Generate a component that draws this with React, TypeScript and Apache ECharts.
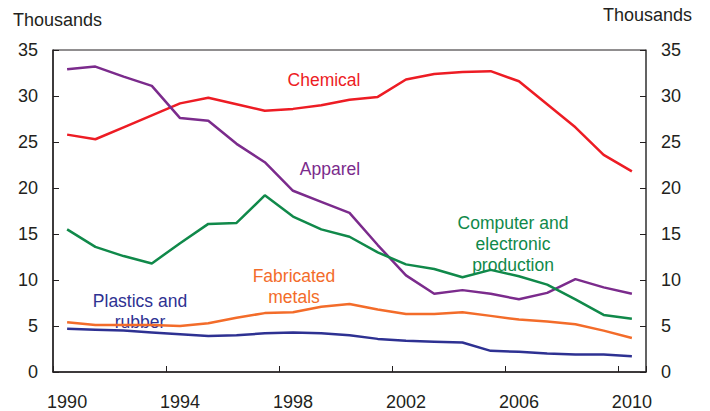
import React, { useEffect, useRef } from "react";
import * as echarts from "echarts";

const years = ["1990","1991","1992","1993","1994","1995","1996","1997","1998","1999","2000","2001","2002","2003","2004","2005","2006","2007","2008","2009","2010"];
const chemical = [25.8, 25.3, 26.6, 27.9, 29.2, 29.8, 29.1, 28.4, 28.6, 29.0, 29.6, 29.9, 31.8, 32.4, 32.6, 32.7, 31.6, 29.1, 26.6, 23.6, 21.8];
const apparel = [32.9, 33.2, 32.1, 31.1, 27.6, 27.3, 24.8, 22.8, 19.7, 18.5, 17.3, 13.8, 10.5, 8.5, 8.9, 8.5, 7.9, 8.6, 10.1, 9.2, 8.5];
const computer = [15.5, 13.6, 12.6, 11.8, 14.0, 16.1, 16.2, 19.2, 16.9, 15.5, 14.7, 13.0, 11.7, 11.2, 10.3, 11.1, 10.4, 9.5, 7.9, 6.2, 5.8];
const fabricated = [5.4, 5.1, 5.1, 5.1, 5.0, 5.3, 5.9, 6.4, 6.5, 7.1, 7.4, 6.8, 6.3, 6.3, 6.5, 6.1, 5.7, 5.5, 5.2, 4.5, 3.7];
const plastics = [4.7, 4.6, 4.5, 4.3, 4.1, 3.9, 4.0, 4.2, 4.3, 4.2, 4.0, 3.6, 3.4, 3.3, 3.2, 2.3, 2.2, 2.0, 1.9, 1.9, 1.7];

const FONT = "'Liberation Sans', Arial, Helvetica, sans-serif";
const TEXT = "#231F20";
const RED = "#ED1C24";
const PURPLE = "#7B2B8C";
const GREEN = "#10894A";
const ORANGE = "#F36C2A";
const BLUE = "#2E3192";

export default function App() {
  const ref = useRef<HTMLDivElement>(null);
  useEffect(() => {
    document.body.style.margin = "0";
    const chart = echarts.init(ref.current!, null, { renderer: "svg" });
    const line = (name: string, data: number[], color: string) => ({
      name,
      type: "line",
      data,
      symbol: "none",
      lineStyle: { color, width: 2.5 },
      itemStyle: { color },
      xAxisIndex: 0,
      yAxisIndex: 0,
    });
    const yAxisCommon = {
      type: "value",
      min: 0,
      max: 35,
      interval: 5,
      splitLine: { show: false },
      axisTick: { show: true, inside: true, length: 6, lineStyle: { color: TEXT } },
      axisLabel: { color: TEXT, fontSize: 18, fontFamily: FONT, margin: 15 },
    };
    const label = (text: string, x: number, y: number, color: string) => ({
      type: "text",
      x,
      y,
      style: {
        text,
        fill: color,
        font: `17.5px ${FONT}`,
        textAlign: "center",
        textVerticalAlign: "middle",
        lineHeight: 21,
      },
    });
    chart.setOption({
      animation: false,
      grid: { left: 53, top: 50, right: 64, bottom: 39, show: true, borderColor: TEXT, borderWidth: 1 },
      xAxis: {
        type: "category",
        data: years,
        boundaryGap: true,
        axisLine: { lineStyle: { color: TEXT, width: 1.5 } },
        axisTick: { show: true, inside: true, length: 6, interval: 3, lineStyle: { color: TEXT } },
        axisLabel: { interval: 3, color: TEXT, fontSize: 18, fontFamily: FONT, margin: 21 },
      },
      yAxis: [
        { ...yAxisCommon, position: "left", axisLine: { show: true, lineStyle: { color: TEXT, width: 1.5 } } },
        { ...yAxisCommon, position: "right", axisLine: { show: true, lineStyle: { color: "#555", width: 1.5 } } },
      ],
      series: [
        line("Chemical", chemical, RED),
        line("Apparel", apparel, PURPLE),
        line("Computer and electronic production", computer, GREEN),
        line("Fabricated metals", fabricated, ORANGE),
        line("Plastics and rubber", plastics, BLUE),
      ],
      graphic: [
        { type: "text", x: 13, y: 20, style: { text: "Thousands", fill: TEXT, font: `18px ${FONT}`, textVerticalAlign: "middle" } },
        { type: "text", x: 603, y: 15, style: { text: "Thousands", fill: TEXT, font: `18px ${FONT}`, textVerticalAlign: "middle" } },
        label("Chemical", 324, 80, RED),
        label("Apparel", 330, 169, PURPLE),
        label("Computer and\nelectronic\nproduction", 513, 244, GREEN),
        label("Fabricated\nmetals", 294, 286.5, ORANGE),
        label("Plastics and\nrubber", 140, 311, BLUE),
      ],
    });
    return () => chart.dispose();
  }, []);
  return <div ref={ref} style={{ width: 710, height: 411 }} />;
}
